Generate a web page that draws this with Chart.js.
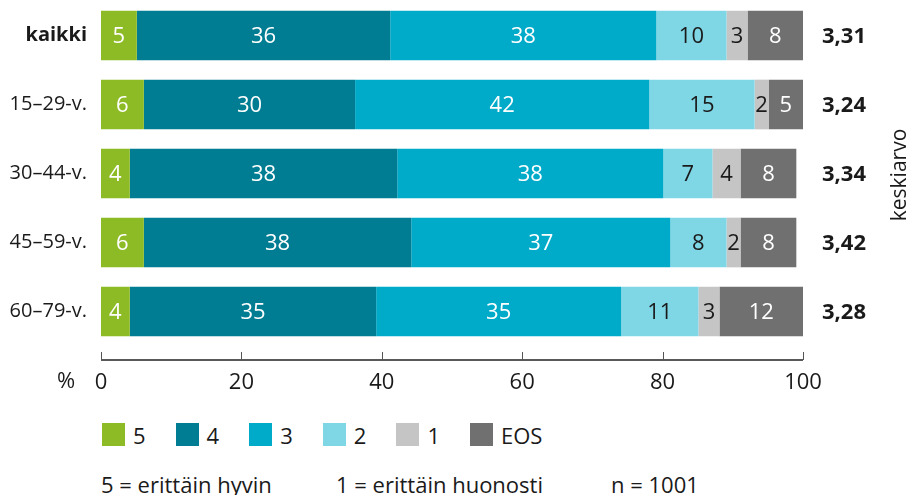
<!DOCTYPE html>
<html>
<head>
<meta charset="utf-8">
<title>Arviot ikäryhmittäin</title>
<script src="https://cdn.jsdelivr.net/npm/chart.js"></script>
<style>
  body { margin: 0; background: #fff; font-family: 'Open Sans', sans-serif; color: #1a1a1a; }
  #wrap { position: relative; width: 911px; height: 495px; overflow: hidden; }
  #chart { position: absolute; left: 0; top: 0; }
  #legend { position: absolute; left: 0; top: 423px; width: 911px; height: 26px; font-size: 22px; }
  .item { position: absolute; top: 0; white-space: nowrap; line-height: 24px; }
  .box { display: inline-block; width: 23px; height: 23px; vertical-align: top; margin-right: 8px; }
  .note { position: absolute; top: 470px; font-size: 22px; line-height: 28px; white-space: nowrap; }
</style>
</head>
<body>
<div id="wrap">
  <canvas id="chart" width="911" height="400"></canvas>
  <div id="legend"></div>
  <div class="note" style="left:101px">5 = erittäin hyvin</div>
  <div class="note" style="left:336px">1 = erittäin huonosti</div>
  <div class="note" style="left:611px">n = 1001</div>
</div>
<script>
  const groups = ['kaikki', '15–29-v.', '30–44-v.', '45–59-v.', '60–79-v.'];
  const answers = ['5', '4', '3', '2', '1', 'EOS'];
  const val5 = [5.1, 6.1, 4.1, 6.1, 4.1];
  const val4 = [36.1, 30.1, 38.1, 38.1, 35.1];
  const val3 = [37.9, 41.9, 37.9, 36.9, 34.9];
  const val2 = [10.0, 15.0, 7.0, 8.0, 11.0];
  const val1 = [3.0, 2.0, 4.0, 2.0, 3.0];
  const valEos = [7.9, 4.9, 7.95, 7.95, 11.9];
  const averages = ['3,31', '3,24', '3,34', '3,42', '3,28'];
  const xTicks = [0, 20, 40, 60, 80, 100];

  const colors = ['#8dbb25', '#007d92', '#00abc9', '#7fd6e5', '#c5c5c5', '#707070'];
  const textColors = ['#fff', '#fff', '#fff', '#1a1a1a', '#1a1a1a', '#fff'];
  const series = [val5, val4, val3, val2, val1, valEos];

  Chart.defaults.font.family = "'Open Sans', sans-serif";
  Chart.defaults.color = '#1a1a1a';

  // numbers inside the bars
  const barLabels = {
    id: 'barLabels',
    afterDatasetsDraw(chart) {
      const ctx = chart.ctx;
      ctx.save();
      ctx.font = "22px 'Open Sans', sans-serif";
      ctx.textAlign = 'center';
      ctx.textBaseline = 'middle';
      chart.data.datasets.forEach((ds, i) => {
        chart.getDatasetMeta(i).data.forEach((bar, j) => {
          const p = bar.getProps(['x', 'base', 'y'], true);
          ctx.fillStyle = textColors[i];
          ctx.fillText(Math.round(ds.data[j]), (p.x + p.base) / 2, p.y + 1);
        });
      });
      ctx.restore();
    }
  };

  // x axis line below the bars, ticks pointing up, averages on the right
  const extras = {
    id: 'extras',
    afterDraw(chart) {
      const ctx = chart.ctx;
      const xs = chart.scales.x, ys = chart.scales.y;
      const yLine = chart.chartArea.bottom + 14;
      ctx.save();
      ctx.strokeStyle = '#222';
      ctx.lineWidth = 1.3;
      ctx.beginPath();
      ctx.moveTo(xs.getPixelForValue(0), yLine);
      ctx.lineTo(xs.getPixelForValue(100), yLine);
      ctx.stroke();
      ctx.strokeStyle = '#555';
      ctx.lineWidth = 1;
      xTicks.forEach(t => {
        const px = Math.round(xs.getPixelForValue(t)) + 0.5;
        ctx.beginPath();
        ctx.moveTo(px, yLine);
        ctx.lineTo(px, yLine - 8);
        ctx.stroke();
      });
      ctx.fillStyle = '#1a1a1a';
      ctx.font = "22px 'Open Sans', sans-serif";
      ctx.textAlign = 'center';
      ctx.textBaseline = 'middle';
      ctx.fillText('%', 66, yLine + 22);

      ctx.font = "bold 22px 'Open Sans', sans-serif";
      ctx.textAlign = 'left';
      averages.forEach((a, j) => ctx.fillText(a, 822, ys.getPixelForValue(j) + 1));

      ctx.translate(900, 175);
      ctx.rotate(-Math.PI / 2);
      ctx.textAlign = 'center';
      ctx.font = "21px 'Open Sans', sans-serif";
      ctx.fillText('keskiarvo', 0, 0);
      ctx.restore();
    }
  };

  const chart = new Chart(document.getElementById('chart'), {
    type: 'bar',
    data: {
      labels: groups,
      datasets: answers.map((a, i) => ({
        label: a,
        data: series[i],
        backgroundColor: colors[i],
        borderWidth: 0,
        categoryPercentage: 1,
        barPercentage: 0.72
      }))
    },
    options: {
      indexAxis: 'y',
      responsive: false,
      animation: false,
      devicePixelRatio: 1,
      layout: { padding: { top: 1, right: 108, left: 0, bottom: 0 } },
      plugins: { legend: { display: false }, tooltip: { enabled: false } },
      scales: {
        x: {
          stacked: true,
          min: 0,
          max: 100,
          afterBuildTicks: s => { s.ticks = xTicks.map(v => ({ value: v })); },
          afterFit: s => { s.height = 54; },
          grid: { display: false, drawTicks: false },
          border: { display: false },
          ticks: { padding: 24, font: { size: 22 }, color: '#1a1a1a' }
        },
        y: {
          stacked: true,
          afterFit: s => { s.width = 101; s.paddingTop = 0; s.paddingBottom = 0; },
          grid: { display: false, drawTicks: false },
          border: { display: false },
          ticks: {
            padding: 14,
            color: '#1a1a1a',
            font: c => ({ size: 20, weight: c.index === 0 ? 'bold' : 'normal' })
          }
        }
      }
    },
    plugins: [barLabels, extras]
  });

  // legend under the axis
  const legend = document.getElementById('legend');
  answers.forEach((a, i) => {
    const item = document.createElement('div');
    item.className = 'item';
    item.style.left = (102 + i * 73.6) + 'px';
    item.innerHTML = '<span class="box" style="background:' + colors[i] + '"></span>' + a;
    legend.appendChild(item);
  });
</script>
</body>
</html>
